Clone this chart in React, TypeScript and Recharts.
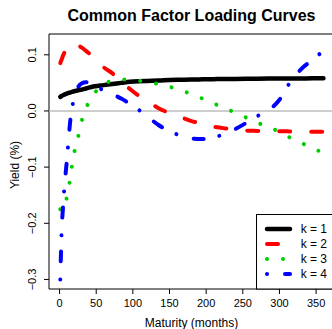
import { LineChart, Line, XAxis, YAxis, ReferenceLine, ReferenceArea } from 'recharts'

// maturities in months, loadings
const maturities = [1, 2, 3, 4, 6, 8, 10, 12, 15, 18, 21, 24, 30, 36, 48, 60, 72, 84, 96, 108, 120, 135, 150, 165, 180, 195, 210, 225, 240, 255, 270, 285, 300, 315, 330, 345, 360]

const k1 = [0.025, 0.026, 0.027, 0.0275, 0.029, 0.03, 0.031, 0.032, 0.033, 0.0345, 0.0355, 0.0365, 0.038, 0.04, 0.044, 0.046, 0.048, 0.05, 0.052, 0.053, 0.0535, 0.054, 0.055, 0.0555, 0.056, 0.0563, 0.0566, 0.0569, 0.057, 0.0572, 0.0574, 0.0576, 0.0577, 0.0578, 0.0579, 0.058, 0.058]
const k2 = [0.085, 0.089, 0.092, 0.096, 0.102, 0.108, 0.112, 0.115, 0.118, 0.119, 0.119, 0.118, 0.113, 0.107, 0.094, 0.078, 0.067, 0.053, 0.039, 0.027, 0.017, 0.005, -0.004, -0.011, -0.018, -0.023, -0.028, -0.031, -0.033, -0.035, -0.0355, -0.036, -0.036, -0.0365, -0.037, -0.037, -0.037]
const k3 = [-0.175, -0.178, -0.178, -0.176, -0.172, -0.165, -0.153, -0.141, -0.115, -0.089, -0.068, -0.054, -0.019, 0.004, 0.032, 0.047, 0.054, 0.056, 0.0555, 0.054, 0.051, 0.048, 0.043, 0.037, 0.03, 0.022, 0.0135, 0.005, -0.003, -0.012, -0.021, -0.029, -0.037, -0.048, -0.057, -0.066, -0.075]
const k4 = [-0.3, -0.25, -0.205, -0.185, -0.145, -0.115, -0.088, -0.055, -0.013, 0.012, 0.028, 0.039, 0.049, 0.051, 0.044, 0.037, 0.03, 0.022, 0.013, 0.002, -0.01, -0.025, -0.036, -0.044, -0.049, -0.05, -0.047, -0.041, -0.032, -0.021, -0.009, 0.001, 0.02, 0.052, 0.075, 0.091, 0.107]

const xTicks = [0, 50, 100, 150, 200, 250, 300, 350]
const yTicks = [-0.3, -0.2, -0.1, 0, 0.1]

const series = [
    { key: 'k1', name: 'k = 1', color: '#000000', width: 4.5, dash: undefined },
    { key: 'k2', name: 'k = 2', color: '#ff0000', width: 4, dash: '11 21' },
    { key: 'k3', name: 'k = 3', color: '#00cd00', width: 4, dash: '0.01 16' },
    { key: 'k4', name: 'k = 4', color: '#0000ff', width: 4, dash: '0.01 18 10 16' },
]

const rows = maturities.map((m, i) => ({ m, k1: k1[i], k2: k2[i], k3: k3[i], k4: k4[i] }))

const font = '"Liberation Sans", Arial, sans-serif'

function YTick(props: any) {
    const { x, y, payload } = props
    const label = Number(payload.value).toFixed(1).replace('-', '\u2212')
    return (
        <text x={x} y={y} transform={`rotate(-90, ${x}, ${y})`} textAnchor="middle" fontSize={11} fill="#000">
            {label}
        </text>
    )
}

export default function App() {
    return (
        <div style={{ position: 'fixed', left: 0, top: 0, width: 332, height: 329, overflow: 'hidden', background: '#fff', fontFamily: font }}>
            <LineChart width={336} height={329} data={rows} margin={{ top: 34, right: 2, bottom: 0, left: 0 }}>
                <XAxis
                    dataKey="m"
                    type="number"
                    domain={[-14.4, 374.4]}
                    ticks={xTicks}
                    interval={0}
                    allowDataOverflow
                    height={40}
                    axisLine={false}
                    tickSize={5}
                    tickMargin={5}
                    stroke="#000"
                    tick={{ fontSize: 11, fill: '#000' }}
                />
                <YAxis
                    type="number"
                    domain={[-0.317, 0.137]}
                    ticks={yTicks}
                    interval={0}
                    allowDataOverflow
                    width={49}
                    axisLine={false}
                    tickSize={5}
                    tickMargin={7.7}
                    stroke="#000"
                    tick={<YTick />}
                />
                <ReferenceLine y={0} stroke="#bebebe" strokeWidth={1.5} />
                {series.map(s => (
                    <Line
                        key={s.key}
                        dataKey={s.key}
                        type="monotone"
                        stroke={s.color}
                        strokeWidth={s.width}
                        strokeDasharray={s.dash}
                        strokeLinecap="round"
                        dot={false}
                        isAnimationActive={false}
                    />
                ))}
                <ReferenceArea x1={-14.4} x2={374.4} y1={-0.317} y2={0.137} fill="none" stroke="#000" strokeWidth={1} ifOverflow="visible" />
            </LineChart>
            <svg width={332} height={329} style={{ position: 'absolute', left: 0, top: 0, pointerEvents: 'none' }}>
                <text x={191.5} y={20.7} textAnchor="middle" fontSize={16} fontWeight="bold" fill="#000">Common Factor Loading Curves</text>
                <text x={191.5} y={327.3} textAnchor="middle" fontSize={12} fill="#000">Maturity (months)</text>
                <text x={19.1} y={165} transform="rotate(-90, 19.1, 165)" textAnchor="middle" fontSize={12} fill="#000">Yield (%)</text>
                <rect x={256.5} y={214.5} width={80} height={74.5} fill="#fff" stroke="#000" strokeWidth={1} />
                {series.map((s, i) => (
                    <g key={s.key}>
                        <line x1={267} x2={290} y1={229 + i * 15} y2={229 + i * 15} stroke={s.color} strokeWidth={s.width} strokeDasharray={s.dash} strokeLinecap="round" />
                        <text x={300.7} y={233.3 + i * 15} fontSize={12} fill="#000">{s.name}</text>
                    </g>
                ))}
            </svg>
        </div>
    )
}
